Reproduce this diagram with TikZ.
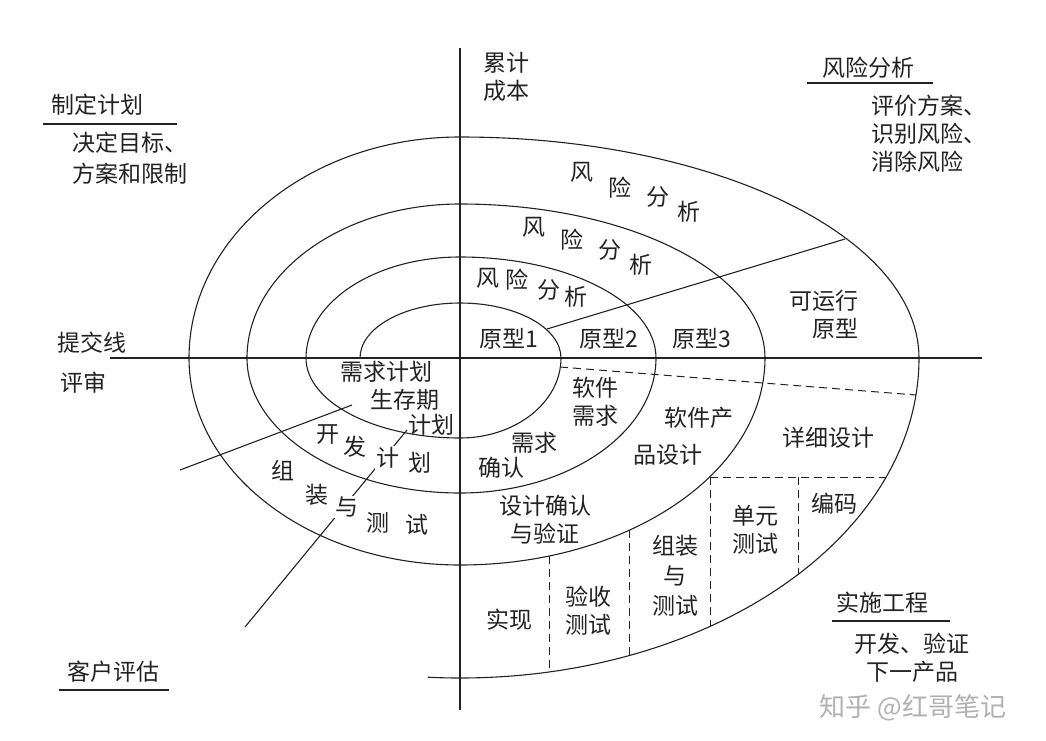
\documentclass[tikz,border=0pt]{standalone}
\usepackage{fontspec}
\setmainfont{Noto Sans CJK SC}
\usetikzlibrary{calc}
\definecolor{cink}{HTML}{222222}
\definecolor{cmark}{HTML}{B0B0B0}
\tikzset{
  every picture/.style={font=\fontsize{23}{28}\selectfont, line width=1.1pt, draw=cink, text=cink},
  lbl/.style={inner sep=1pt, align=center},
  cover/.style={inner sep=1pt, fill=white},
  divider/.style={draw=cink, dash pattern=on 8pt off 5pt, line width=1pt},
  wmark/.style={text=cmark, font=\fontsize{26}{30}\selectfont},
}

\begin{document}
\begin{tikzpicture}[x=1pt, y=1pt]
  \useasboundingbox (-460,-382) rectangle (586,358);
  % axes
  \draw (0,310) -- (0,-352);
  \draw (-350,0) -- (522,0);
  % the spiral, one quarter at a time
  \draw (-100,0) arc[start angle=180, end angle=90, x radius=100, y radius=55]
    arc[start angle=90, end angle=0, x radius=101, y radius=55]
    arc[start angle=0, end angle=-90, x radius=101, y radius=80]
    arc[start angle=-90, end angle=-180, x radius=154, y radius=80]
    arc[start angle=180, end angle=90, x radius=154, y radius=101]
    arc[start angle=90, end angle=0, x radius=196, y radius=101]
    arc[start angle=0, end angle=-90, x radius=196, y radius=135]
    arc[start angle=-90, end angle=-180, x radius=213, y radius=135]
    arc[start angle=180, end angle=90, x radius=213, y radius=154]
    arc[start angle=90, end angle=0, x radius=305, y radius=154]
    arc[start angle=0, end angle=-90, x radius=305, y radius=207]
    arc[start angle=-90, end angle=-180, x radius=271, y radius=207]
    arc[start angle=180, end angle=90, x radius=271, y radius=221]
    arc[start angle=90, end angle=0, x radius=459, y radius=221]
    arc[start angle=0, end angle=-90, x radius=459, y radius=320]
    arc[start angle=-90, end angle=-94, x radius=459, y radius=320];
  % dividers
  \draw (87,29) -- (385,119);
  \draw[divider] (100,-9) -- (456,-37);
  \draw[divider] (89,-198) -- (89,-314);
  \draw[divider] (169,-172) -- (169,-298);
  \draw[divider] (250,-119) -- (250,-268);
  \draw[divider] (338,-119) -- (338,-216);
  \draw[divider] (250,-119) -- (426,-119);
  \draw (-280,-112) -- (-108,-47);
  \draw (-215,-269) -- (-53,-72);
  % quadrant headings
  \node[lbl] (plan) at (-362,253) {制定计划};
  \draw (-417,234) -- (-283,234);
  \node[lbl, anchor=west, align=left] (plannote) at (-389,200) {决定目标、\\[3pt]方案和限制};
  \node[lbl, anchor=west, align=left] (cost) at (22,281) {累计\\成本};
  \node[lbl] (risk) at (408,290) {风险分析};
  \draw (347,275) -- (473,275);
  \node[lbl, anchor=west, align=left] (risknote) at (410,224) {评价方案、\\识别风险、\\消除风险};
  \node[lbl] (submit) at (-368,15) {提交线};
  \node[lbl] (review) at (-376,-25) {评审};
  \node[lbl] (client) at (-346,-314) {客户评估};
  \draw (-401,-332) -- (-291,-332);
  \node[lbl] (impl) at (422,-245) {实施工程};
  \draw (372,-263) -- (490,-263);
  \node[lbl] (implnote) at (452,-300) {开发、验证\\下一产品};
  % risk analysis rings
  \node[lbl] (riskfa) at (122,186) {风};
  \node[lbl] (riskfb) at (160,170) {险};
  \node[lbl] (riskfc) at (198,161) {分};
  \node[lbl] (riskfd) at (229,146) {析};
  \node[lbl] (risktha) at (74,131) {风};
  \node[lbl] (riskthb) at (112,118) {险};
  \node[lbl] (riskthc) at (150,108) {分};
  \node[lbl] (riskthd) at (181,93) {析};
  \node[lbl] (risksa) at (28,80) {风};
  \node[lbl] (risksb) at (57,78) {险};
  \node[lbl] (risksc) at (89,68) {分};
  \node[lbl] (risksd) at (116,61) {析};
  \node[lbl] (proto1) at (49,19) {原型1};
  \node[lbl] (proto2) at (149,19) {原型2};
  \node[lbl] (proto3) at (242,19) {原型3};
  \node[lbl, anchor=east, align=right] (protorun) at (400,43) {可运行\\原型};
  % engineering quadrant
  \node[lbl] (swreq) at (135,-44) {软件\\需求};
  \node[lbl] (reqa) at (74,-85) {需求};
  \node[lbl] (reqb) at (41,-110) {确认};
  \node[lbl] (proda) at (239,-60) {软件产};
  \node[lbl] (prodb) at (208,-97) {品设计};
  \node[lbl] (detail) at (368,-80) {详细设计};
  \node[lbl] (code) at (374,-146) {编码};
  \node[lbl] (unit) at (295,-172) {单元\\测试};
  \node[lbl, align=center] (integ) at (215,-218) {组装\\[2pt]与\\[2pt]测试};
  \node[lbl] (accept) at (128,-253) {验收\\测试};
  \node[lbl] (deploy) at (49,-262) {实现};
  \node[lbl] (verify) at (85,-162) {设计确认\\与验证};
  % planning quadrant
  \node[lbl] (reqplan) at (-73,-14) {需求计划};
  \node[lbl] (life) at (-55,-42) {生存期};
  \node[lbl] (lifeplan) at (-28,-67) {计划};
  \node[lbl] (deva) at (-132,-77) {开};
  \node[lbl] (devb) at (-105,-89) {发};
  \node[cover] (devc) at (-72,-100) {计};
  \node[lbl] (devd) at (-40,-105) {划};
  \node[lbl] (asma) at (-177,-112) {组};
  \node[lbl] (asmb) at (-143,-137) {装};
  \node[cover] (asmc) at (-113,-149) {与};
  \node[lbl] (asmd) at (-82,-165) {测};
  \node[lbl] (asme) at (-43,-167) {试};
  \node[wmark] (zhihu) at (453,-350) {知乎 @红哥笔记};
\end{tikzpicture}
\end{document}
